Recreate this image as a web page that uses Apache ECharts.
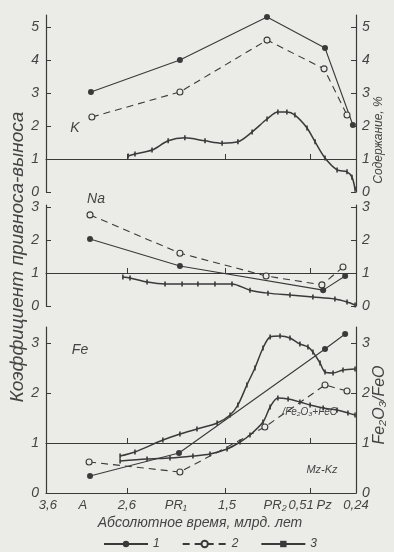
<!DOCTYPE html>
<html><head><meta charset="utf-8">
<script src="https://cdn.jsdelivr.net/npm/echarts@6/dist/echarts.min.js"></script>
<style>html,body{margin:0;padding:0;background:#ebebe8;}#c{width:394px;height:552px;}</style>
</head><body><div id="c"></div>
<script>
// x is a relative position along the (non-linear) geological time axis, 0..100
const xTickPos = [26.1, 57.7, 85.2];
const xLabelPos = [0.6, 11.9, 26.1, 41.9, 58.4, 73.9, 82.3, 89.7, 100];
const xLabels = ['3,6', 'A', '2,6', 'PR₁', '1,5', 'PR₂', '0,51', 'Pz', '0,24'];

// K panel
const k1X = [14.5, 43.2, 71.3, 90.0, 99.0];
const k1Y = [3.03, 4.0, 5.3, 4.36, 2.03];
const k2X = [14.8, 43.2, 71.3, 89.7, 97.1];
const k2Y = [2.27, 3.03, 4.6, 3.73, 2.33];
const k3X = [26.5, 28.7, 34.2, 39.4, 44.8, 51.3, 56.8, 61.9, 66.5, 71.3, 74.8, 77.7, 80.3, 84.2, 86.8, 90.0, 93.9, 97.1, 98.7, 99.7];
const k3Y = [1.09, 1.15, 1.27, 1.55, 1.64, 1.55, 1.48, 1.52, 1.82, 2.21, 2.42, 2.42, 2.33, 1.94, 1.52, 1.03, 0.67, 0.61, 0.45, 0.08];

// Na panel
const na1X = [14.2, 43.2, 89.4, 96.5];
const na1Y = [2.03, 1.21, 0.48, 0.91];
const na2X = [14.2, 43.2, 71.0, 89.0, 95.8];
const na2Y = [2.76, 1.6, 0.91, 0.64, 1.18];
const na3X = [24.8, 27.1, 32.6, 38.4, 43.9, 49.0, 54.5, 60.0, 65.8, 71.6, 78.7, 86.1, 93.2, 97.1, 99.7];
const na3Y = [0.88, 0.85, 0.73, 0.67, 0.67, 0.67, 0.67, 0.67, 0.48, 0.39, 0.33, 0.27, 0.21, 0.12, 0.03];

// Fe panel
const fe1X = [14.2, 42.9, 90.0, 96.5];
const fe1Y = [0.34, 0.8, 2.88, 3.18];
const fe2X = [13.9, 43.2, 70.6, 90.0, 97.1];
const fe2Y = [0.62, 0.42, 1.32, 2.16, 2.04];
const fe3aX = [23.9, 28.7, 37.7, 43.2, 48.7, 55.2, 59.4, 61.9, 64.8, 67.4, 70.0, 72.3, 75.5, 78.7, 81.9, 84.5, 86.1, 88.4, 90.0, 92.6, 95.8, 99.7];
const fe3aY = [0.74, 0.82, 1.06, 1.18, 1.28, 1.4, 1.56, 1.76, 2.16, 2.5, 2.9, 3.12, 3.14, 3.1, 2.98, 2.92, 2.82, 2.6, 2.42, 2.4, 2.46, 2.48];
const fe3bX = [23.9, 32.6, 40.0, 47.4, 52.9, 58.4, 62.6, 65.8, 70.0, 72.3, 74.8, 78.1, 81.9, 85.2, 89.4, 93.9, 97.4, 99.7];
const fe3bY = [0.64, 0.68, 0.7, 0.74, 0.78, 0.88, 1.02, 1.16, 1.42, 1.72, 1.9, 1.88, 1.82, 1.76, 1.7, 1.66, 1.6, 1.56];

const kTicks = [0, 1, 2, 3, 4, 5];
const naTicks = [0, 1, 2, 3];
const feTicks = [0, 1, 2, 3];

const INK = '#3a3a3a';
const BG = '#ebebe8';
const FONT = 'Liberation Sans';

function zip(xs, ys) { return xs.map((x, i) => [x, ys[i]]); }

const chart = echarts.init(document.getElementById('c'));

const grids = [
  { left: 46, right: 38, top: 15, height: 177 },
  { left: 46, right: 38, top: 205, height: 101 },
  { left: 46, right: 38, top: 327, height: 166 },
  { left: 46, right: 38, top: 15, height: 144 },
  { left: 46, right: 38, top: 205, height: 68 },
  { left: 46, right: 38, top: 327, height: 116 }
];

function xAx(gi, mode) {
  const a = { gridIndex: gi, type: 'value', min: 0, max: 100, splitLine: { show: false } };
  if (mode === 'hidden') { a.show = false; return a; }
  a.axisLine = { show: true, lineStyle: { color: INK, width: 1.2 } };
  a.axisTick = { show: true, inside: true, length: 5, customValues: xTickPos, lineStyle: { color: INK } };
  if (mode === 'labels') {
    a.axisLabel = {
      show: true, customValues: xLabelPos, margin: 6,
      color: '#444', fontStyle: 'italic', fontFamily: FONT, fontSize: 13,
      formatter: function (v) {
        let best = 0, d = 1e9;
        xLabelPos.forEach((p, i) => { if (Math.abs(p - v) < d) { d = Math.abs(p - v); best = i; } });
        return xLabels[best];
      }
    };
  } else {
    a.axisLabel = { show: false };
  }
  return a;
}

function yAx(gi, max, ticks, pos) {
  return {
    gridIndex: gi, type: 'value', min: 0, max: max, position: pos, interval: 1,
    splitLine: { show: false },
    axisLine: { show: true, lineStyle: { color: INK, width: 1.2 } },
    axisTick: { show: true, inside: true, length: 5, customValues: ticks, lineStyle: { color: INK } },
    axisLabel: { show: true, customValues: ticks, margin: pos === 'left' ? 7 : 6,
      color: '#444', fontStyle: 'italic', fontFamily: FONT, fontSize: 14 }
  };
}
function yHidden(gi) { return { gridIndex: gi, type: 'value', min: 0, max: 1, show: false }; }

const xAxes = [xAx(0, 'hidden'), xAx(1, 'hidden'), xAx(2, 'labels'), xAx(3, 'line'), xAx(4, 'line'), xAx(5, 'line')];
const yAxes = [
  yAx(0, 5.36, kTicks, 'left'), yAx(0, 5.36, kTicks, 'right'),
  yAx(1, 3.06, naTicks, 'left'), yAx(1, 3.06, naTicks, 'right'),
  yAx(2, 3.32, feTicks, 'left'), yAx(2, 3.32, feTicks, 'right'),
  yHidden(3), yHidden(4), yHidden(5)
];

function s1(gi, yi, xs, ys) {
  return { name: '1', type: 'line', xAxisIndex: gi, yAxisIndex: yi, data: zip(xs, ys),
    symbol: 'circle', symbolSize: 6, itemStyle: { color: INK },
    lineStyle: { color: INK, width: 1.1 }, z: 3 };
}
function s2(gi, yi, xs, ys) {
  return { name: '2', type: 'line', xAxisIndex: gi, yAxisIndex: yi, data: zip(xs, ys),
    symbol: 'circle', symbolSize: 6, itemStyle: { color: BG, borderColor: INK, borderWidth: 1.1 },
    lineStyle: { color: INK, width: 1.1, type: [7, 5] }, z: 3 };
}
function s3(gi, yi, xs, ys) {
  return { name: '3', type: 'line', xAxisIndex: gi, yAxisIndex: yi, data: zip(xs, ys), smooth: 0.3,
    symbol: 'rect', symbolSize: [1.6, 5], itemStyle: { color: INK },
    lineStyle: { color: INK, width: 1.5 }, z: 3 };
}

const series = [
  s1(0, 0, k1X, k1Y), s2(0, 0, k2X, k2Y), s3(0, 0, k3X, k3Y),
  s1(1, 2, na1X, na1Y), s2(1, 2, na2X, na2Y), s3(1, 2, na3X, na3Y),
  s1(2, 4, fe1X, fe1Y), s2(2, 4, fe2X, fe2Y), s3(2, 4, fe3aX, fe3aY), s3(2, 4, fe3bX, fe3bY)
];

const txt = (x, y, text, size, rot, extra) => Object.assign({
  type: 'text', x: x, y: y, rotation: rot || 0,
  style: { text: text, font: 'italic ' + size + 'px ' + FONT, fill: '#444', align: 'center', verticalAlign: 'middle' }
}, extra || {});

chart.setOption({
  backgroundColor: BG,
  animation: false,
  grid: grids,
  xAxis: xAxes,
  yAxis: yAxes,
  series: series,
  legend: {
    data: ['1', '2', '3'], left: 98, top: 533, itemWidth: 44, itemHeight: 8, itemGap: 22,
    textStyle: { color: '#444', fontStyle: 'italic', fontFamily: FONT, fontSize: 12 }
  },
  graphic: [
    txt(18, 257, 'Коэффициент привноса-выноса', 19, Math.PI / 2),
    txt(379, 140, 'Содержание, %', 12, Math.PI / 2),
    txt(380, 405, 'Fe₂O₃/FeO', 16, Math.PI / 2),
    txt(200, 523, 'Абсолютное время, млрд. лет', 14, 0),
    txt(75, 128, 'K', 14, 0),
    txt(96, 199, 'Na', 14, 0),
    txt(80, 350, 'Fe', 14, 0),
    txt(310, 412, '/Fe₂O₃+FeO', 10, 0),
    txt(322, 470, 'Mz-Kz', 11, 0)
  ]
});
</script></body></html>
